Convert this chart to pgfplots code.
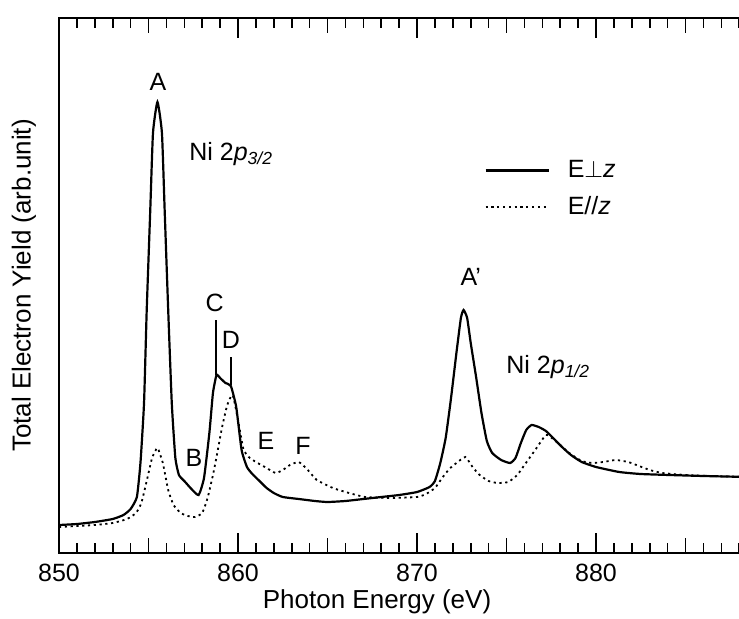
\documentclass[border=0pt]{standalone}
\usepackage{fontspec}
\setmainfont{Liberation Sans}
\usepackage{pgfplots}
\pgfplotsset{compat=1.18}
\begin{document}
\begin{tikzpicture}
\begin{axis}[
  scale only axis,
  width=344.6pt, height=267.5pt,
  xmin=850, xmax=888.5, ymin=0, ymax=535,
  axis line style={line width=1.1pt},
  xtick={850,860,870,880},
  minor xtick={851,852,853,854,856,857,858,859,861,862,863,864,866,867,868,869,871,872,873,874,876,877,878,879,881,882,883,884,886,887,888},
  extra x ticks={855,865,875,885},
  extra x tick labels={},
  extra x tick style={major tick length=7.5pt},
  major tick length=10pt, minor tick length=5pt,
  every tick/.style={black, line width=0.8pt},
  ytick=\empty,
  tick align=inside,
  xtick pos=both,
  /pgf/number format/assume math mode=true,
  /pgf/number format/set thousands separator={},
  x tick label style={font=\fontsize{12.5}{14}\selectfont, yshift=-2pt},
  xlabel={Photon Energy (eV)},
  ylabel={Total Electron Yield (arb.unit)},
  every axis x label/.style={at={(axis description cs:0.4615,-0.0916)}, anchor=center, font=\fontsize{13}{15}\selectfont},
  every axis y label/.style={at={(axis description cs:-0.051,0.5)}, rotate=90, anchor=center, font=\fontsize{13}{15}\selectfont},
  legend style={at={(axis cs:873.75,397)}, anchor=north west, draw=none, fill=none, inner sep=0pt, row sep=4pt, column sep=7pt, font=\fontsize{12.5}{14}\selectfont, nodes={inner sep=2pt}},
  legend cell align=left,
  legend image code/.code={\draw[#1] (0pt,0pt) -- (31.5pt,0pt);},
]
\addplot[black, line width=1.1pt, smooth, tension=0.3] coordinates {
(850.0,28) (851,29) (852,31) (853,34) (853.6,38) (854.0,44) (854.35,56) (854.55,90) (854.75,150)
(854.9,243) (855.1,344) (855.25,420) (855.5,451) (855.75,420) (855.9,344) (856.1,243) (856.3,150)
(856.5,95) (856.7,78) (857.0,72) (857.4,64) (857.8,58) (858.1,75) (858.4,120) (858.6,160) (858.8,178)
(859.0,175) (859.3,170) (859.6,167) (859.9,146) (860.2,103) (860.5,86) (860.8,79) (861.2,72) (861.6,65)
(862.0,60) (862.5,56) (863.4,54) (864.3,52) (865.0,51) (866.0,52) (867.0,54) (868.0,56) (869.0,58)
(870.0,61) (870.7,66) (871.0,72) (871.3,90) (871.6,115) (871.9,155) (872.2,200) (872.45,235) (872.6,243)
(872.8,235) (873.0,210) (873.3,176) (873.6,140) (873.9,112) (874.2,100) (874.7,93) (875.2,90) (875.5,95)
(875.8,110) (876.1,123) (876.4,128) (876.8,126) (877.2,122) (877.6,115) (878.1,106) (878.6,98) (879.2,91)
(880.0,86) (881.3,81) (882.5,79) (884.1,78) (886,77) (888.5,76)
};
\addlegendentry{E$\perp$\textit{z}}
\addplot[black, line width=0.9pt, dash pattern=on 1.1pt off 1.8pt, smooth, tension=0.3] coordinates {
(850.0,26) (851,27) (852,28) (853,30) (853.8,34) (854.3,40) (854.6,50) (854.9,72) (855.2,95) (855.5,105)
(855.8,90) (856.1,63) (856.4,48) (856.8,40) (857.2,37) (857.6,36) (858.0,40) (858.3,55) (858.6,78) (858.8,96)
(859.1,125) (859.4,148) (859.7,158) (860.0,133) (860.3,104) (860.6,96) (861.0,91) (861.5,86) (862.1,80)
(862.5,83) (862.9,88) (863.4,91) (863.9,83) (864.4,73) (865.3,65) (866.2,60) (867.1,56) (868.5,55) (870.0,56)
(870.5,59) (871.0,65) (871.4,75) (871.8,84) (872.2,90) (872.7,96) (873.1,86) (873.5,78) (874.0,72) (874.5,70)
(875.1,71) (875.6,78) (876.0,88) (876.6,103) (877.2,118) (877.6,114) (878.0,108) (878.5,100) (879.2,92)
(879.8,90) (880.4,91) (881.1,93) (881.8,91) (882.4,87) (883.0,83) (883.7,80) (885.0,78) (886.5,77) (888.5,76)
};
\addlegendentry{E//\textit{z}}
\addplot[black, line width=0.9pt, forget plot] coordinates {(858.79,178) (858.79,233)};
\addplot[black, line width=0.9pt, forget plot] coordinates {(859.6,168) (859.6,196)};
\node[font=\fontsize{12.5}{14}\selectfont] at (axis cs:855.53,471) {A};
\node[font=\fontsize{12.5}{14}\selectfont] at (axis cs:858.7,250) {C};
\node[font=\fontsize{12.5}{14}\selectfont] at (axis cs:859.6,213) {D};
\node[font=\fontsize{12.5}{14}\selectfont] at (axis cs:857.54,95) {B};
\node[font=\fontsize{12.5}{14}\selectfont] at (axis cs:861.56,112) {E};
\node[font=\fontsize{12.5}{14}\selectfont] at (axis cs:863.63,107) {F};
\node[font=\fontsize{12.5}{14}\selectfont] at (axis cs:873.0,276) {A'};
\node[font=\fontsize{12.5}{14}\selectfont, anchor=base west, inner sep=0pt] at (axis cs:857.26,393) {Ni 2\textit{p}\textsubscript{\textit{3/2}}};
\node[font=\fontsize{12.5}{14}\selectfont, anchor=base west, inner sep=0pt] at (axis cs:874.97,180) {Ni 2\textit{p}\textsubscript{\textit{1/2}}};
\end{axis}
\pgfresetboundingbox
\path[use as bounding box] (-29.5pt,-32.5pt) rectangle (340pt,276.5pt);
\end{tikzpicture}
\end{document}
